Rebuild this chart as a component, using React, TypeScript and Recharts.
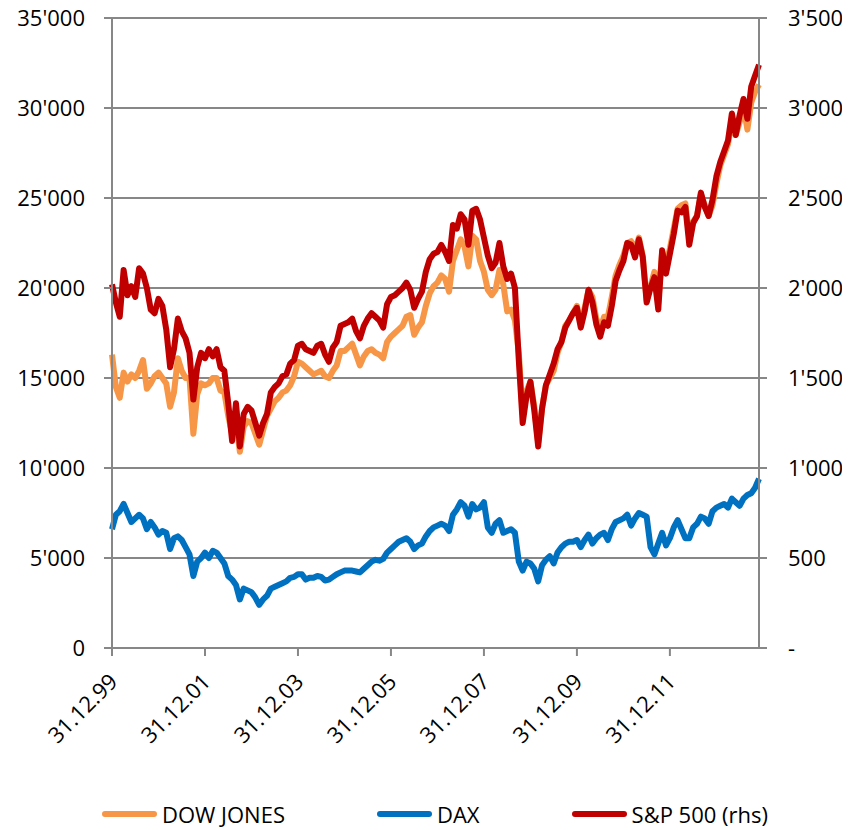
import React from "react";
import { CartesianGrid, Legend, Line, LineChart, XAxis, YAxis } from "recharts";

// month index since 31.12.1999 (0..167), read off the picture once a month
const months = Array.from({ length: 168 }, (_, i) => i);

const dowJones = [
  16300, 14500, 13900, 15300, 14800, 15200, 15000, 15400, 16000, 14400, 14700, 15100,
  15300, 15000, 14700, 13400, 14200, 16100, 15400, 15000, 15000, 11900, 14100, 14700,
  14600, 14700, 15000, 15000, 14300, 14200, 12900, 11900, 12700, 10900, 12300, 12600,
  12500, 11900, 11300, 12100, 12900, 13300, 13700, 13900, 14200, 14300, 14600, 15100,
  15900, 15800, 15600, 15400, 15200, 15300, 15400, 15100, 15000, 15400, 15700, 16500,
  16500, 16700, 16900, 16300, 15700, 16200, 16500, 16600, 16400, 16300, 16100, 17000,
  17300, 17500, 17700, 17900, 18400, 18500, 17400, 17800, 18100, 19000, 19700, 20100,
  20300, 20700, 20500, 19800, 21500, 22100, 22700, 22300, 21200, 22900, 22700, 21500,
  20900, 19900, 19600, 19900, 21000, 20200, 18700, 18800, 18200, 16400, 13000, 14300,
  14800, 13400, 11400, 13300, 14600, 15000, 15400, 16400, 17000, 17900, 18200, 18600,
  19000, 18000, 18900, 19900, 19500, 18300, 17700, 18400, 18400, 19500, 20700, 21300,
  21800, 22500, 22600, 22100, 22800, 21800, 19300, 20100, 20900, 19200, 22000, 21300,
  22200, 23300, 24400, 24600, 24700, 22800, 23700, 24000, 25200, 24600, 24000, 24600,
  25800, 26800, 27400, 28000, 29200, 28500, 29200, 30100, 28800, 30300, 30900, 31300,
];

const dax = [
  6600, 7400, 7600, 8000, 7500, 7000, 7200, 7400, 7200, 6600, 7000, 6700,
  6300, 6500, 6400, 5500, 6100, 6200, 6000, 5600, 5200, 4000, 4800, 5000,
  5300, 5000, 5400, 5300, 5000, 4700, 4000, 3800, 3500, 2700, 3300, 3200,
  3100, 2800, 2400, 2700, 2900, 3300, 3400, 3500, 3600, 3700, 3900, 3950,
  4100, 4100, 3800, 3900, 3900, 4000, 3950, 3750, 3800, 3950, 4100, 4200,
  4300, 4300, 4300, 4250, 4200, 4400, 4600, 4800, 4900, 4850, 4950, 5300,
  5500, 5700, 5900, 6000, 6100, 5900, 5500, 5700, 5800, 6200, 6500, 6700,
  6800, 6900, 6800, 6500, 7400, 7700, 8100, 7900, 7300, 8000, 7700, 7800,
  8100, 6700, 6400, 6900, 7100, 6400, 6500, 6600, 6400, 4800, 4300, 4800,
  4700, 4400, 3700, 4600, 4900, 5100, 4700, 5300, 5600, 5800, 5900, 5900,
  6000, 5600, 6000, 6300, 5800, 6100, 6300, 6400, 6000, 6600, 7000, 7100,
  7200, 7400, 6800, 7200, 7500, 7400, 7300, 5600, 5200, 5800, 6400, 5700,
  6100, 6700, 7100, 6600, 6100, 6100, 6700, 6900, 7300, 7200, 6900, 7600,
  7800, 7900, 8000, 7800, 8300, 8100, 7900, 8300, 8500, 8600, 8900, 9400,
];

const sp500 = [
  2020, 1920, 1840, 2100, 1960, 2010, 1950, 2110, 2080, 2000, 1880, 1860,
  1940, 1900, 1770, 1560, 1660, 1830, 1760, 1720, 1640, 1380, 1560, 1640,
  1610, 1660, 1620, 1660, 1560, 1540, 1360, 1150, 1360, 1120, 1300, 1340,
  1320, 1250, 1180, 1250, 1300, 1420, 1450, 1470, 1510, 1520, 1580, 1600,
  1680, 1690, 1660, 1650, 1640, 1680, 1690, 1630, 1590, 1670, 1700, 1790,
  1800, 1810, 1830, 1760, 1720, 1790, 1830, 1860, 1840, 1820, 1780, 1910,
  1950, 1960, 1980, 2000, 2030, 1990, 1890, 1940, 1980, 2090, 2160, 2190,
  2200, 2240, 2200, 2150, 2350, 2330, 2410, 2380, 2240, 2430, 2440, 2380,
  2280, 2180, 2110, 2140, 2250, 2120, 2050, 2080, 2000, 1600, 1250, 1400,
  1480, 1320, 1120, 1330, 1460, 1520, 1580, 1660, 1700, 1780, 1820, 1860,
  1890, 1780, 1870, 1990, 1920, 1800, 1730, 1810, 1790, 1900, 2040, 2100,
  2150, 2250, 2240, 2170, 2270, 2170, 1920, 2000, 2060, 1880, 2210, 2080,
  2190, 2300, 2430, 2420, 2450, 2240, 2360, 2400, 2530, 2450, 2400, 2490,
  2620, 2700, 2760, 2820, 2970, 2850, 2960, 3050, 2940, 3120, 3180, 3240,
];

const xTicks = [0, 24, 48, 72, 96, 120, 144];
const xTickLabels = ["31.12.99", "31.12.01", "31.12.03", "31.12.05", "31.12.07", "31.12.09", "31.12.11"];
const leftTicks = [0, 5000, 10000, 15000, 20000, 25000, 30000, 35000];
const rightTicks = [0, 500, 1000, 1500, 2000, 2500, 3000, 3500];

const series = [
  { key: "dow", name: "DOW JONES", color: "#F79646" },
  { key: "dax", name: "DAX", color: "#0070C0" },
  { key: "sp", name: "S&P 500 (rhs)", color: "#C00000" },
];

const rows = months.map((m, i) => ({ m, dow: dowJones[i], dax: dax[i], sp: sp500[i] }));

const font = "'Open Sans', sans-serif";
const gray = "#878787";

const withApostrophe = (v: number) => String(v).replace(/\B(?=(\d{3})+(?!\d))/g, "'");

function DateTick(props: any) {
  const { x, y, payload } = props;
  const idx = xTicks.indexOf(payload.value);
  const ax = x + 7;
  const ay = y + 27;
  return (
    <text
      x={ax}
      y={ay}
      transform={`rotate(-45 ${ax} ${ay})`}
      textAnchor="end"
      fontSize={22}
      fontFamily={font}
      fill="#000"
    >
      {xTickLabels[idx]}
    </text>
  );
}

function ChartLegend() {
  return (
    <div style={{ display: "flex", height: 32, alignItems: "center", paddingLeft: 94, fontFamily: font, fontSize: 22 }}>
      {series.map((s, i) => (
        <div key={s.key} style={{ display: "flex", alignItems: "center", marginLeft: i === 0 ? 0 : 92 }}>
          <span style={{ display: "inline-block", width: 55, height: 6, borderRadius: 3, background: s.color, marginRight: 5 }} />
          <span style={{ color: "#000" }}>{s.name}</span>
        </div>
      ))}
    </div>
  );
}

export default function App() {
  return (
    <div style={{ marginTop: -8 }}>
      <LineChart width={834} height={830} data={rows} margin={{ top: 18, right: 0, bottom: 0, left: 0 }}>
        <CartesianGrid vertical={false} stroke={gray} strokeWidth={2} yAxisId="l" />
        <XAxis
          dataKey="m"
          type="number"
          domain={[0, 167]}
          ticks={xTicks}
          interval={0}
          height={150}
          axisLine={{ stroke: gray, strokeWidth: 2 }}
          tickLine={{ stroke: gray, strokeWidth: 2 }}
          tickSize={8}
          tickMargin={0}
          tick={<DateTick />}
        />
        <YAxis
          yAxisId="l"
          domain={[0, 35000]}
          ticks={leftTicks}
          interval={0}
          width={104}
          axisLine={{ stroke: gray, strokeWidth: 2 }}
          tickLine={{ stroke: gray, strokeWidth: 2 }}
          tickSize={8}
          tickMargin={19}
          tickFormatter={withApostrophe}
          tick={{ fontSize: 22, fontFamily: font, fill: "#000" }}
        />
        <YAxis
          yAxisId="r"
          orientation="right"
          domain={[0, 3500]}
          ticks={rightTicks}
          interval={0}
          width={83}
          axisLine={{ stroke: gray, strokeWidth: 2 }}
          tickLine={{ stroke: gray, strokeWidth: 2 }}
          tickSize={8}
          tickMargin={21}
          tickFormatter={(v: number) => (v === 0 ? "-" : withApostrophe(v))}
          tick={{ fontSize: 22, fontFamily: font, fill: "#000", textAnchor: "start" }}
        />
        <Legend verticalAlign="bottom" content={<ChartLegend />} />
        <Line yAxisId="l" dataKey="dow" name="DOW JONES" stroke="#F79646" strokeWidth={6} dot={false} strokeLinejoin="round" isAnimationActive={false} />
        <Line yAxisId="l" dataKey="dax" name="DAX" stroke="#0070C0" strokeWidth={6} dot={false} strokeLinejoin="round" isAnimationActive={false} />
        <Line yAxisId="r" dataKey="sp" name="S&P 500 (rhs)" stroke="#C00000" strokeWidth={6} dot={false} strokeLinejoin="round" isAnimationActive={false} />
      </LineChart>
    </div>
  );
}
